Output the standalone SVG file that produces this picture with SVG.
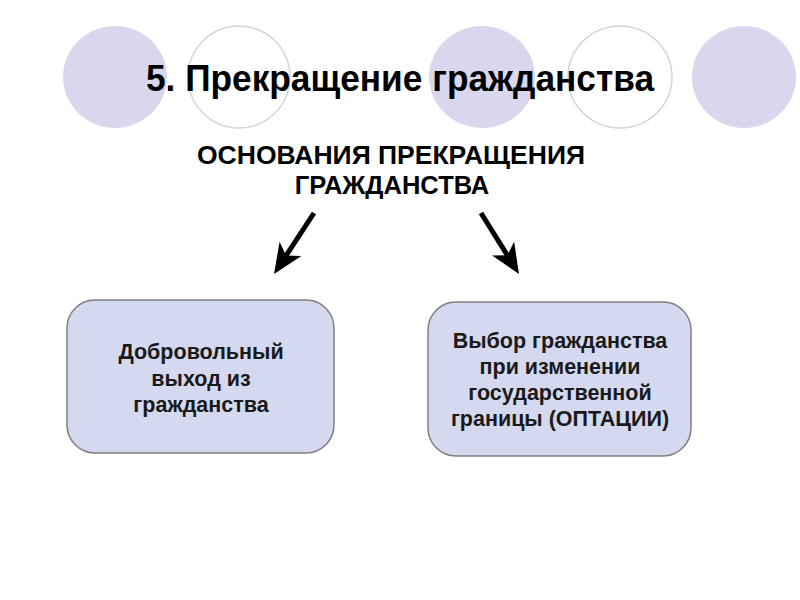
<svg xmlns="http://www.w3.org/2000/svg" width="800" height="600" viewBox="0 0 800 600">
<defs>
<style>
.cf{fill:#d8d7ee;stroke:none}
.co{fill:#ffffff;stroke:#d4d4d4;stroke-width:1.5}
.title{font-family:"Liberation Sans",Arial,sans-serif;font-weight:bold;font-size:36px;fill:#000;text-anchor:middle}
.sub{font-family:"Liberation Sans",Arial,sans-serif;font-weight:bold;font-size:25.5px;fill:#000;text-anchor:middle}
.box{fill:#d5d9f0;stroke:#7f7f7f;stroke-width:1.5}
.bt{font-family:"Liberation Sans",Arial,sans-serif;font-weight:bold;font-size:21.5px;fill:#1a1a1a;text-anchor:middle}
.arr{stroke:#000;stroke-width:5;fill:none;marker-end:url(#ah)}
</style>
<marker id="ah" markerUnits="userSpaceOnUse" markerWidth="30" markerHeight="26" refX="14" refY="13" orient="auto">
<path d="M0,0 L30,13 L0,26 L8,13 Z" fill="#000"/>
</marker>
</defs>
<rect width="800" height="600" fill="#fff"/>
<g id="decor">
<ellipse class="cf" cx="115" cy="77" rx="52" ry="51"/>
<ellipse class="co" cx="239" cy="77" rx="51" ry="51"/>
<ellipse class="cf" cx="482" cy="77" rx="53" ry="51"/>
<ellipse class="co" cx="620" cy="77" rx="52" ry="51"/>
<ellipse class="cf" cx="744" cy="77" rx="52" ry="51"/>
</g>
<g id="title">
<text class="title" x="400" y="91" textLength="508" lengthAdjust="spacingAndGlyphs">5. Прекращение гражданства</text>
</g>
<g id="root">
<text class="sub" x="391" y="164" textLength="388" lengthAdjust="spacingAndGlyphs">ОСНОВАНИЯ ПРЕКРАЩЕНИЯ</text>
<text class="sub" x="392" y="194">ГРАЖДАНСТВА</text>
</g>
<g id="connectors">
<line class="arr" x1="314" y1="213" x2="282.8" y2="260.6"/>
<line class="arr" x1="481" y1="213" x2="510.5" y2="260.4"/>
</g>
<g id="node1">
<rect class="box" x="67" y="300" width="267" height="153" rx="28" ry="28"/>
<text class="bt" x="201" y="359">Добровольный</text>
<text class="bt" x="201" y="386">выход из</text>
<text class="bt" x="201" y="412">гражданства</text>
</g>
<g id="node2">
<rect class="box" x="428" y="302" width="263" height="154" rx="28" ry="28"/>
<text class="bt" x="560" y="348">Выбор гражданства</text>
<text class="bt" x="560" y="374">при изменении</text>
<text class="bt" x="560" y="400">государственной</text>
<text class="bt" x="560" y="426">границы (ОПТАЦИИ)</text>
</g>
</svg>
